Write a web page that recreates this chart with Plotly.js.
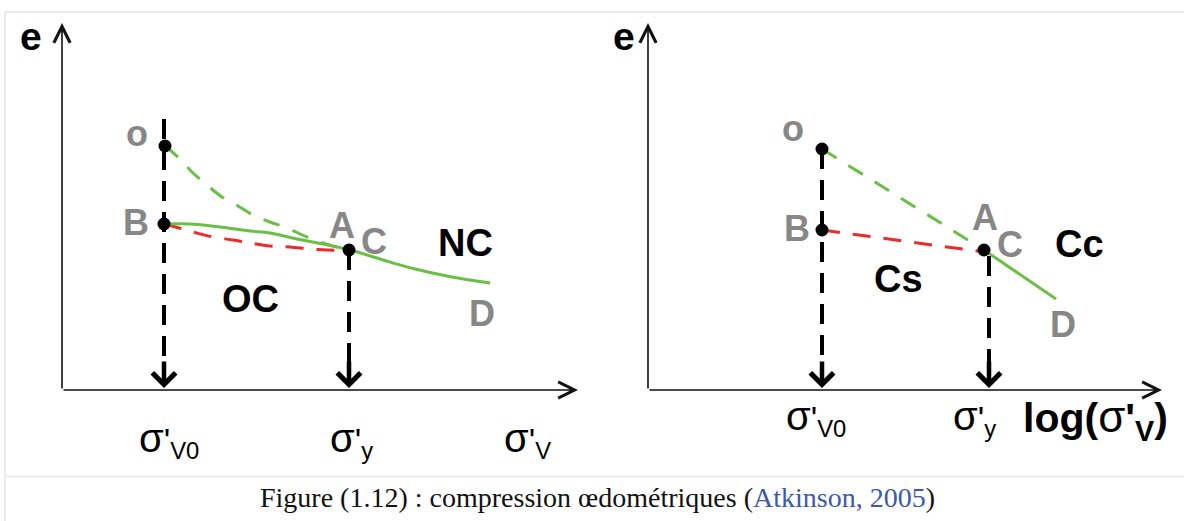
<!DOCTYPE html>
<html>
<head>
<meta charset="utf-8">
<script src="https://cdn.plot.ly/plotly-3.0.1.min.js"></script>
<style>html,body{margin:0;padding:0;background:#fff;}#chart{width:1184px;height:521px;}</style>
</head>
<body>
<div id="chart"></div>
<script>
// ---------- LEFT PANEL : e vs sigma'v (arbitrary chart units) ----------
const leftPointX = [1.03, 1.02, 2.87];          // O, B, A
const leftPointY = [2.44, 1.66, 1.40];
// green dashed: virgin loading O -> A
const leftLoadX = [1.03, 1.08, 1.20, 1.30, 1.45, 1.60, 1.76, 1.91, 2.08, 2.25, 2.45, 2.61, 2.78, 2.87];
const leftLoadY = [2.44, 2.40, 2.29, 2.18, 2.05, 1.93, 1.84, 1.75, 1.68, 1.62, 1.53, 1.47, 1.42, 1.40];
// green solid: reloading B -> C -> D
const leftReloadX = [1.02, 1.28, 1.58, 1.88, 2.08, 2.35, 2.61, 2.88, 3.21, 3.49, 3.90, 4.28];
const leftReloadY = [1.66, 1.66, 1.63, 1.59, 1.57, 1.51, 1.46, 1.40, 1.30, 1.22, 1.13, 1.07];
// red dashed: unloading B -> A
const leftUnloadX = [1.02, 1.10, 1.31, 1.51, 1.71, 1.88, 2.08, 2.28, 2.48, 2.65, 2.87];
const leftUnloadY = [1.66, 1.64, 1.58, 1.53, 1.50, 1.47, 1.44, 1.43, 1.41, 1.40, 1.39];
// sigma'v0 and sigma'y guide lines (x, top y)
const leftGuideX = [1.02, 2.87];
const leftGuideTop = [2.71, 1.40];
const leftAxisEnd = [5.16, 3.67];                 // x tip, y tip

// ---------- RIGHT PANEL : e vs log(sigma'v) ----------
const rightPointX = [1.74, 1.74, 3.36];         // O, B, A
const rightPointY = [2.41, 1.60, 1.40];
const rightLoadX = [1.74, 3.36];                 // green dashed O -> A
const rightLoadY = [2.41, 1.40];
const rightReloadX = [3.36, 4.08];               // green solid C -> D (Cc)
const rightReloadY = [1.40, 0.91];
const rightUnloadX = [1.74, 3.36];               // red dashed B -> A (Cs)
const rightUnloadY = [1.60, 1.38];
const rightGuideX = [1.74, 3.41];
const rightGuideTop = [2.41, 1.34];
const rightAxisEnd = [5.14, 3.67];

const GREEN = '#6abf45', RED = '#ee2a2a', GRAY = '#878787';
const SANS = 'Liberation Sans, Arial, sans-serif';

function panelTraces(xa, ya, P) {
  const t = [];
  P.guideX.forEach((gx, i) => {
    t.push({x:[gx, gx], y:[P.guideTop[i], 0.12], xaxis:xa, yaxis:ya, mode:'lines',
      line:{color:'#000', width:4, dash:'20px,11px'}, hoverinfo:'skip'});
  });
  t.push({x:P.loadX, y:P.loadY, xaxis:xa, yaxis:ya, mode:'lines',
    line:{color:GREEN, width:3, dash:'17px,14px', shape:'spline'}, hoverinfo:'skip'});
  t.push({x:P.unloadX, y:P.unloadY, xaxis:xa, yaxis:ya, mode:'lines',
    line:{color:RED, width:3, dash:'18px,13px', shape:'spline'}, hoverinfo:'skip'});
  t.push({x:P.reloadX, y:P.reloadY, xaxis:xa, yaxis:ya, mode:'lines',
    line:{color:GREEN, width:3, shape:'spline'}, hoverinfo:'skip'});
  t.push({x:P.pointX, y:P.pointY, xaxis:xa, yaxis:ya, mode:'markers',
    marker:{color:'#000', size:13}, hoverinfo:'skip'});
  return t;
}

const L = {pointX:leftPointX, pointY:leftPointY, loadX:leftLoadX, loadY:leftLoadY,
  reloadX:leftReloadX, reloadY:leftReloadY, unloadX:leftUnloadX, unloadY:leftUnloadY,
  guideX:leftGuideX, guideTop:leftGuideTop};
const R = {pointX:rightPointX, pointY:rightPointY, loadX:rightLoadX, loadY:rightLoadY,
  reloadX:rightReloadX, reloadY:rightReloadY, unloadX:rightUnloadX, unloadY:rightUnloadY,
  guideX:rightGuideX, guideTop:rightGuideTop};

const data = panelTraces('x', 'y', L).concat(panelTraces('x2', 'y2', R));

const ann = [];
function axisArrows(xr, yr, end) {
  ann.push({xref:xr, yref:yr, axref:xr, ayref:yr, x:end[0], y:0, ax:0, ay:0, text:'',
    showarrow:true, arrowhead:5, arrowwidth:1.6, arrowsize:2, arrowcolor:'#111', standoff:0});
  ann.push({xref:xr, yref:yr, axref:xr, ayref:yr, x:0, y:end[1], ax:0, ay:0, text:'',
    showarrow:true, arrowhead:5, arrowwidth:1.6, arrowsize:2, arrowcolor:'#111', standoff:0});
}
function guideArrows(xr, yr, gx) {
  gx.forEach(v => ann.push({xref:xr, yref:yr, axref:xr, ayref:yr, x:v, y:0.02, ax:v, ay:0.3,
    text:'', showarrow:true, arrowhead:4, arrowwidth:4.5, arrowsize:1.0, arrowcolor:'#000', standoff:0}));
}
function label(xr, yr, x, y, text, color, size, bold, xanchor) {
  ann.push({xref:xr, yref:yr, x:x, y:y, text:text, showarrow:false,
    xanchor:xanchor || 'center', yanchor:'middle',
    font:{family:SANS, size:size, color:color, weight: bold ? 'bold' : 'normal'}});
}
axisArrows('x', 'y', leftAxisEnd);
axisArrows('x2', 'y2', rightAxisEnd);
guideArrows('x', 'y', leftGuideX);
guideArrows('x2', 'y2', rightGuideX);

const SIG = "<span style='font-size:40px'>σ</span>";

// left labels
label('x','y', -0.31, 3.54, 'e', '#000', 39, true);
label('x','y', 0.745, 2.57, 'o', GRAY, 36, true);
label('x','y', 0.74, 1.68, 'B', GRAY, 36, true);
label('x','y', 2.80, 1.65, 'A', GRAY, 36, true);
label('x','y', 3.12, 1.49, 'C', GRAY, 36, true);
label('x','y', 4.03, 1.47, 'NC', '#000', 38, true);
label('x','y', 1.885, 0.91, 'OC', '#000', 38, true);
label('x','y', 4.20, 0.77, 'D', GRAY, 36, true);
label('x','y', 0.75, -0.50, SIG + "'<sub>V0</sub>", '#000', 34, false, 'left');
label('x','y', 2.66, -0.50, SIG + "'<sub>y</sub>", '#000', 34, false, 'left');
label('x','y', 4.40, -0.50, SIG + "'<sub>V</sub>", '#000', 34, false, 'left');

// right labels
label('x2','y2', -0.24, 3.54, 'e', '#000', 39, true);
label('x2','y2', 1.453, 2.62, 'o', GRAY, 36, true);
label('x2','y2', 1.487, 1.62, 'B', GRAY, 36, true);
label('x2','y2', 3.37, 1.73, 'A', GRAY, 36, true);
label('x2','y2', 3.62, 1.455, 'C', GRAY, 36, true);
label('x2','y2', 4.31, 1.46, 'Cc', '#000', 38, true);
label('x2','y2', 2.50, 1.11, 'Cs', '#000', 38, true);
label('x2','y2', 4.15, 0.66, 'D', GRAY, 36, true);
label('x2','y2', 1.36, -0.28, SIG + "'<sub>V0</sub>", '#000', 34, false, 'left');
label('x2','y2', 3.03, -0.28, SIG + "'<sub>y</sub>", '#000', 34, false, 'left');
label('x2','y2', 3.73, -0.29, "<b>log(</b><span style='font-size:44px'>σ</span><b>'</b><sub><b>V</b></sub><b>)</b>", '#000', 41, false, 'left');

// caption
ann.push({xref:'paper', yref:'paper', x:0.505, y:0.046, showarrow:false, xanchor:'center', yanchor:'middle',
  text:'Figure (1.12) : compression œdométriques (<span style="color:#3b5aa8">Atkinson, 2005</span>)',
  font:{family:'Liberation Serif, Times New Roman, serif', size:28, color:'#111'}});

const shapes = [
  {type:'line', xref:'paper', yref:'paper', x0:5/1184, x1:1, y0:1-12/521, y1:1-12/521, line:{color:'#ebebeb', width:2}},
  {type:'line', xref:'paper', yref:'paper', x0:5/1184, x1:5/1184, y0:0, y1:1-12/521, line:{color:'#ebebeb', width:2}},
  {type:'line', xref:'paper', yref:'paper', x0:5/1184, x1:1, y0:1-476.5/521, y1:1-476.5/521, line:{color:'#ebebeb', width:2}}
];

const hidden = {visible:false, showgrid:false, zeroline:false, fixedrange:true};
const layout = {
  width:1184, height:521, margin:{l:0, r:0, t:0, b:0},
  paper_bgcolor:'#fff', plot_bgcolor:'rgba(0,0,0,0)', showlegend:false,
  xaxis:Object.assign({domain:[0, 0.5], range:[-0.62, 5.30]}, hidden),
  yaxis:Object.assign({domain:[0, 1], range:[-1.31, 3.90]}, hidden),
  xaxis2:Object.assign({domain:[0.5, 1], range:[-0.56, 5.36], anchor:'y2'}, hidden),
  yaxis2:Object.assign({domain:[0, 1], range:[-1.31, 3.90], anchor:'x2'}, hidden),
  annotations:ann, shapes:shapes
};
Plotly.newPlot('chart', data, layout, {staticPlot:true, displayModeBar:false});
</script>
</body>
</html>
